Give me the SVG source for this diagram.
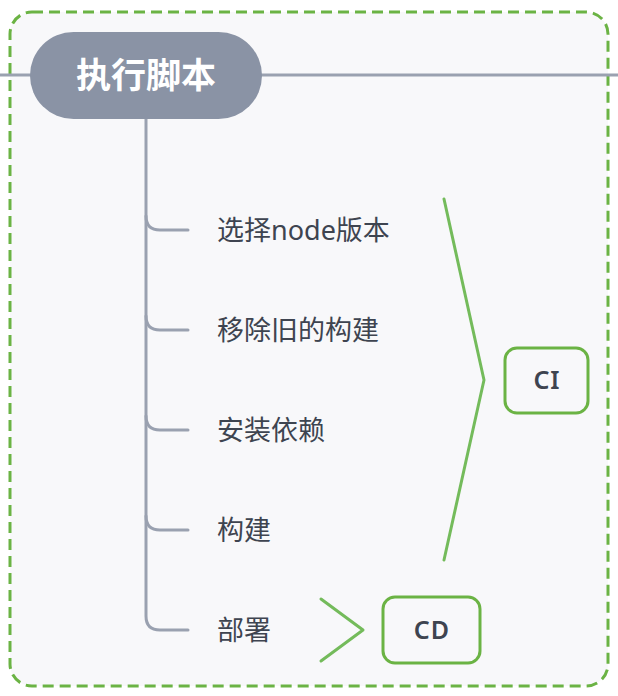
<svg xmlns="http://www.w3.org/2000/svg" width="618" height="696" viewBox="0 0 618 696">
<style>
.frame{fill:#f8f8fa;stroke:#6bb344;stroke-width:3;stroke-dasharray:11 6}
.line{fill:none;stroke:#9aa1b0;stroke-width:3;stroke-linecap:round}
.brace{fill:none;stroke:#74bb5b;stroke-width:3;stroke-linecap:round;stroke-linejoin:round}
.box{fill:#f8f8fa;stroke:#6bb344;stroke-width:3}
.lbl{font-family:"Noto Sans","Noto Sans CJK SC",sans-serif;font-size:27px;fill:#3e4450}
.tag{font-family:"Noto Sans","Noto Sans CJK SC",sans-serif;font-size:25px;font-weight:600;letter-spacing:1px;fill:#3e4450;text-anchor:middle}
</style>
<rect width="618" height="696" fill="#ffffff"/>
<rect class="frame" x="10" y="12" width="598" height="674" rx="22"/>
<g id="connectors">
<line class="line" x1="0" y1="75" x2="618" y2="75" style="stroke-linecap:butt"/>
<path class="line" d="M146 119 V216 Q146 230 160 230 H188"/>
<path class="line" d="M146 216 V316 Q146 330 160 330 H188"/>
<path class="line" d="M146 316 V416 Q146 430 160 430 H188"/>
<path class="line" d="M146 416 V516 Q146 530 160 530 H188"/>
<path class="line" d="M146 516 V616 Q146 630 160 630 H188"/>
<polyline class="brace" points="444,199 484,380 444,560"/>
<polyline class="brace" points="321,599 363,630 321,661"/>
</g>
<g id="root">
<rect x="30" y="32" width="232" height="87" rx="43.5" fill="#8a93a5"/>
<text x="146" y="88" text-anchor="middle" font-family="'Noto Sans CJK SC',sans-serif" font-size="35" font-weight="bold" fill="#ffffff">执行脚本</text>
</g>
<g id="n1"><text class="lbl" x="217" y="240">选择node版本</text></g>
<g id="n2"><text class="lbl" x="217" y="340">移除旧的构建</text></g>
<g id="n3"><text class="lbl" x="217" y="440">安装依赖</text></g>
<g id="n4"><text class="lbl" x="217" y="540">构建</text></g>
<g id="n5"><text class="lbl" x="217" y="640">部署</text></g>
<g id="ci">
<rect class="box" x="505" y="348" width="83" height="65" rx="12"/>
<text class="tag" x="547" y="389">CI</text>
</g>
<g id="cd">
<rect class="box" x="383" y="597" width="97" height="66" rx="12"/>
<text class="tag" x="432" y="639">CD</text>
</g>
</svg>
